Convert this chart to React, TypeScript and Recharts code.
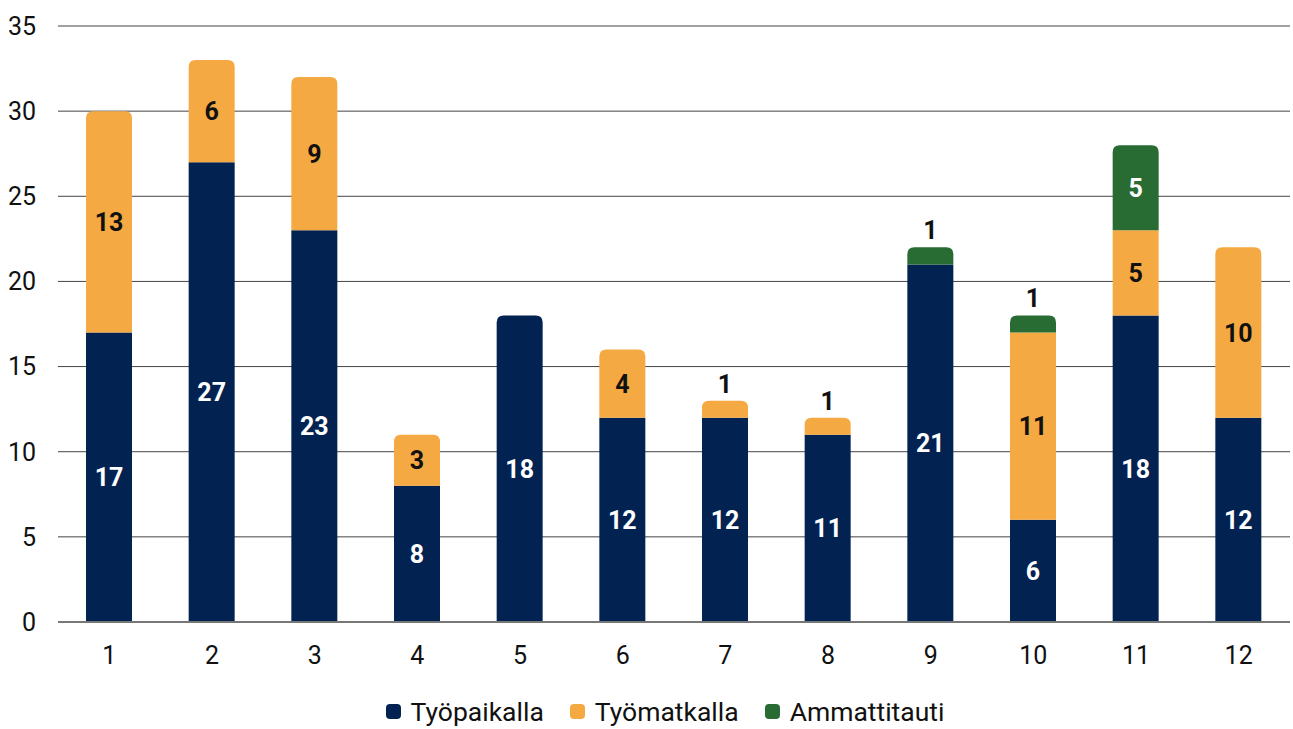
import React from 'react';
import { BarChart, Bar, XAxis, YAxis, CartesianGrid, LabelList, Legend } from 'recharts';

const categories = ['1', '2', '3', '4', '5', '6', '7', '8', '9', '10', '11', '12'];
const tyopaikalla = [17, 27, 23, 8, 18, 12, 12, 11, 21, 6, 18, 12];
const tyomatkalla = [13, 6, 9, 3, 0, 4, 1, 1, 0, 11, 5, 10];
const ammattitauti = [0, 0, 0, 0, 0, 0, 0, 0, 1, 1, 5, 0];
const yTicks = [0, 5, 10, 15, 20, 25, 30, 35];

const seriesNames = ['Työpaikalla', 'Työmatkalla', 'Ammattitauti'];
const keys = ['a', 'b', 'c'];
const colors = ['#022352', '#F5A942', '#286C33'];
const labelColors = ['#ffffff', '#111111', '#ffffff'];

const data = categories.map((name, i) => ({
  name,
  a: tyopaikalla[i] || null,
  b: tyomatkalla[i] || null,
  c: ammattitauti[i] || null,
}));

const FONT = 'Roboto, "Noto Sans", sans-serif';

const makeShape = (idx: number) => (props: any) => {
  const { x, y, width, height, fill, payload } = props;
  if (!height || height <= 0) return null;
  const above = keys.slice(idx + 1);
  const isTop = above.every((k) => !payload[k]);
  const r = isTop ? Math.min(7, height, width / 2) : 0;
  const d = `M${x},${y + height} L${x},${y + r} Q${x},${y} ${x + r},${y} L${x + width - r},${y} Q${x + width},${y} ${x + width},${y + r} L${x + width},${y + height} Z`;
  return <path d={d} fill={fill} />;
};

const makeLabel = (idx: number) => (props: any) => {
  const { x, y, width, height, value } = props;
  if (!value) return null;
  const cx = x + width / 2;
  if (value <= 1) {
    return (
      <text x={cx} y={y - 8} textAnchor="middle" fill="#111" fontWeight={700} fontSize={25} fontFamily={FONT}>
        {value}
      </text>
    );
  }
  return (
    <text x={cx} y={y + height / 2} dy="0.36em" textAnchor="middle" fill={labelColors[idx]} fontWeight={700} fontSize={25} fontFamily={FONT}>
      {value}
    </text>
  );
};

const renderLegend = () => (
  <div style={{ display: 'flex', justifyContent: 'center', alignItems: 'center', fontFamily: FONT, fontSize: 26.5, color: '#111', height: 40, marginTop: 4, paddingLeft: 32 }}>
    {seriesNames.map((n, i) => (
      <div key={n} style={{ display: 'flex', alignItems: 'center', margin: '0 13px' }}>
        <span style={{ display: 'inline-block', width: 15, height: 15, borderRadius: 4, background: colors[i], marginRight: 10 }} />
        <span>{n}</span>
      </div>
    ))}
  </div>
);

export default function App() {
  return (
    <div style={{ position: 'absolute', left: 0, top: 0, width: 1293, height: 729, background: '#fff' }}>
      <BarChart width={1293} height={729} data={data} margin={{ top: 26, right: 3, left: 8, bottom: 2 }} barSize={46}>
        <CartesianGrid vertical={false} stroke="#444" strokeWidth={1} />
        <XAxis
          dataKey="name"
          height={65}
          tickLine={false}
          tickSize={0}
          tickMargin={24}
          axisLine={{ stroke: '#777', strokeWidth: 2 }}
          tick={{ fill: '#111', fontSize: 25, fontFamily: FONT }}
        />
        <YAxis
          width={50}
          domain={[0, 35]}
          ticks={yTicks}
          tickLine={false}
          tickSize={0}
          tickMargin={22}
          axisLine={false}
          tick={{ fill: '#111', fontSize: 25, fontFamily: FONT }}
        />
        <Legend verticalAlign="bottom" height={40} content={renderLegend} />
        {keys.map((k, i) => (
          <Bar key={k} dataKey={k} name={seriesNames[i]} stackId="s" fill={colors[i]} isAnimationActive={false} shape={makeShape(i)}>
            <LabelList dataKey={k} content={makeLabel(i)} />
          </Bar>
        ))}
      </BarChart>
    </div>
  );
}
